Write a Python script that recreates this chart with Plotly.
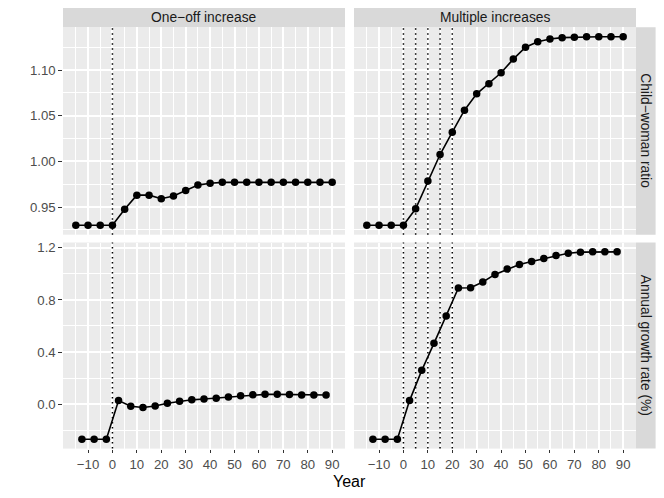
import plotly.graph_objects as go

# ---------------- data ----------------
years_ratio = [-15, -10, -5, 0, 5, 10, 15, 20, 25, 30, 35, 40, 45, 50, 55, 60, 65, 70, 75, 80, 85, 90]
years_growth = [-12.5, -7.5, -2.5, 2.5, 7.5, 12.5, 17.5, 22.5, 27.5, 32.5, 37.5, 42.5,
                47.5, 52.5, 57.5, 62.5, 67.5, 72.5, 77.5, 82.5, 87.5]

ratio_oneoff = [0.930, 0.930, 0.930, 0.930, 0.9475, 0.963, 0.963, 0.959, 0.962, 0.968, 0.974,
                0.976, 0.977, 0.977, 0.977, 0.977, 0.977, 0.977, 0.977, 0.977, 0.977, 0.977]
ratio_multi = [0.930, 0.930, 0.930, 0.930, 0.948, 0.9785, 1.0075, 1.032, 1.056, 1.074, 1.085,
               1.097, 1.112, 1.125, 1.131, 1.134, 1.1355, 1.136, 1.1365, 1.1365, 1.1365, 1.1365]

growth_oneoff = [-0.268, -0.268, -0.268, 0.028, -0.015, -0.025, -0.013, 0.008, 0.023, 0.034, 0.040,
                 0.047, 0.055, 0.066, 0.072, 0.076, 0.076, 0.074, 0.071, 0.071, 0.071]
growth_multi = [-0.268, -0.268, -0.268, 0.028, 0.260, 0.467, 0.677, 0.891, 0.893, 0.937, 0.995,
                1.036, 1.071, 1.094, 1.117, 1.140, 1.158, 1.166, 1.168, 1.168, 1.168]

changes_oneoff = [0]
changes_multi = [0, 5, 10, 15, 20]

col_labels = ["One\u2212off increase", "Multiple increases"]
row_labels = ["Child\u2212woman ratio", "Annual growth rate (%)"]
x_label = "Year"

x_ticks = [-10, 0, 10, 20, 30, 40, 50, 60, 70, 80, 90]
x_ticktext = ["\u221210", "0", "10", "20", "30", "40", "50", "60", "70", "80", "90"]
x_minor = [-15, -5, 5, 15, 25, 35, 45, 55, 65, 75, 85, 95]
top_y_ticks = [0.95, 1.00, 1.05, 1.10]
top_y_ticktext = ["0.95", "1.00", "1.05", "1.10"]
top_y_minor = [0.925, 0.975, 1.025, 1.075, 1.125]
bot_y_ticks = [0.0, 0.4, 0.8, 1.2]
bot_y_ticktext = ["0.0", "0.4", "0.8", "1.2"]
bot_y_minor = [-0.2, 0.2, 0.6, 1.0]


def expand(vals, frac=0.05):
    lo, hi = min(vals), max(vals)
    d = (hi - lo) * frac
    return [lo - d, hi + d]


# page is offset by the default 8px body margin; lay out in window pixels
OFF = 8
W, H = 664 - OFF, 498 - OFF
FONT = "Liberation Sans, Arial, Helvetica, sans-serif"
TICK_SIZE = 13.2
STRIP_SIZE = 13.8
TITLE_SIZE = 16

# panel boxes in window pixels
xl = (63, 345)
xr = (354, 636)
yt = (27.3, 234.7)
yb = (242.5, 448.6)


def fx(p):
    return (p - OFF) / W


def fy(p):
    return 1 - (p - OFF) / H


def px(a):
    return [fx(a[0]), fx(a[1])]


def py(a):
    return [fy(a[1]), fy(a[0])]


fig = go.Figure()

panels = [
    ("x", "y", years_ratio, ratio_oneoff, changes_oneoff),
    ("x2", "y2", years_ratio, ratio_multi, changes_multi),
    ("x3", "y3", years_growth, growth_oneoff, changes_oneoff),
    ("x4", "y4", years_growth, growth_multi, changes_multi),
]

for xa, ya, xs, ys, ch in panels:
    fig.add_trace(go.Scatter(
        x=xs, y=ys, xaxis=xa, yaxis=ya, mode="lines+markers",
        line=dict(color="black", width=1.6),
        marker=dict(color="black", size=7.5),
        showlegend=False, hoverinfo="skip"))
    for c in ch:
        fig.add_shape(type="line", xref=xa, yref=ya + " domain", x0=c, x1=c, y0=0, y1=1,
                      line=dict(color="black", width=1.5, dash="1.5px,3.5px"), layer="above")

x_range = expand(years_ratio + years_growth)
top_range = expand(ratio_oneoff + ratio_multi)
bot_range = expand(growth_oneoff + growth_multi)

tickfont = dict(family=FONT, size=TICK_SIZE, color="#4D4D4D")


def xaxis(dom, anchor, show):
    return dict(domain=px(dom), anchor=anchor, range=x_range, tickmode="array", automargin=False,
                tickvals=x_ticks, ticktext=x_ticktext, showgrid=True, gridcolor="white",
                gridwidth=1.5, zeroline=False, showline=False,
                ticks="outside" if show else "", ticklen=3.7, tickwidth=1.1, tickcolor="#333333",
                showticklabels=show, tickfont=tickfont,
                minor=dict(tickvals=x_minor, showgrid=True, gridcolor="white", gridwidth=0.75, ticks=""))


def yaxis(dom, anchor, rng, tv, tt, mn, show):
    return dict(domain=py(dom), anchor=anchor, range=rng, tickmode="array", automargin=False,
                tickvals=tv, ticktext=tt, showgrid=True, gridcolor="white",
                gridwidth=1.5, zeroline=False, showline=False,
                ticks="outside" if show else "", ticklen=3.7, tickwidth=1.1, tickcolor="#333333",
                showticklabels=show, tickfont=tickfont,
                minor=dict(tickvals=mn, showgrid=True, gridcolor="white", gridwidth=0.75, ticks=""))


fig.update_layout(
    width=W, height=H, margin=dict(l=0, r=0, t=0, b=0, autoexpand=False),
    paper_bgcolor="white", plot_bgcolor="#EBEBEB",
    font=dict(family=FONT),
    xaxis=xaxis(xl, "y", False),
    xaxis2=xaxis(xr, "y2", False),
    xaxis3=xaxis(xl, "y3", True),
    xaxis4=xaxis(xr, "y4", True),
    yaxis=yaxis(yt, "x", top_range, top_y_ticks, top_y_ticktext, top_y_minor, True),
    yaxis2=yaxis(yt, "x2", top_range, top_y_ticks, top_y_ticktext, top_y_minor, False),
    yaxis3=yaxis(yb, "x3", bot_range, bot_y_ticks, bot_y_ticktext, bot_y_minor, True),
    yaxis4=yaxis(yb, "x4", bot_range, bot_y_ticks, bot_y_ticktext, bot_y_minor, False),
)

# strips
strip_top = (8.0, 27.3)
strip_right = (636, 655.6)
strip_color = "#D9D9D9"
strip_font = dict(family=FONT, size=STRIP_SIZE, color="#1A1A1A")

for dom, lab in zip([xl, xr], col_labels):
    fig.add_shape(type="rect", xref="paper", yref="paper",
                  x0=fx(dom[0]), x1=fx(dom[1]), y0=fy(strip_top[1]), y1=fy(strip_top[0]),
                  fillcolor=strip_color, line=dict(width=0), layer="below")
    fig.add_annotation(xref="paper", yref="paper", x=fx((dom[0] + dom[1]) / 2),
                       y=fy((strip_top[0] + strip_top[1]) / 2), text=lab, showarrow=False,
                       font=strip_font, xanchor="center", yanchor="middle")

for dom, lab in zip([yt, yb], row_labels):
    fig.add_shape(type="rect", xref="paper", yref="paper",
                  x0=fx(strip_right[0]), x1=fx(strip_right[1]), y0=fy(dom[1]), y1=fy(dom[0]),
                  fillcolor=strip_color, line=dict(width=0), layer="below")
    fig.add_annotation(xref="paper", yref="paper", x=fx((strip_right[0] + strip_right[1]) / 2),
                       y=fy((dom[0] + dom[1]) / 2), text=lab, showarrow=False, textangle=90,
                       font=strip_font, xanchor="center", yanchor="middle")

fig.add_annotation(xref="paper", yref="paper", x=fx((xl[0] + xr[1]) / 2), y=fy(481),
                   text=x_label, showarrow=False, xanchor="center", yanchor="middle",
                   font=dict(family=FONT, size=TITLE_SIZE, color="black"))

fig.write_html("out.html")
